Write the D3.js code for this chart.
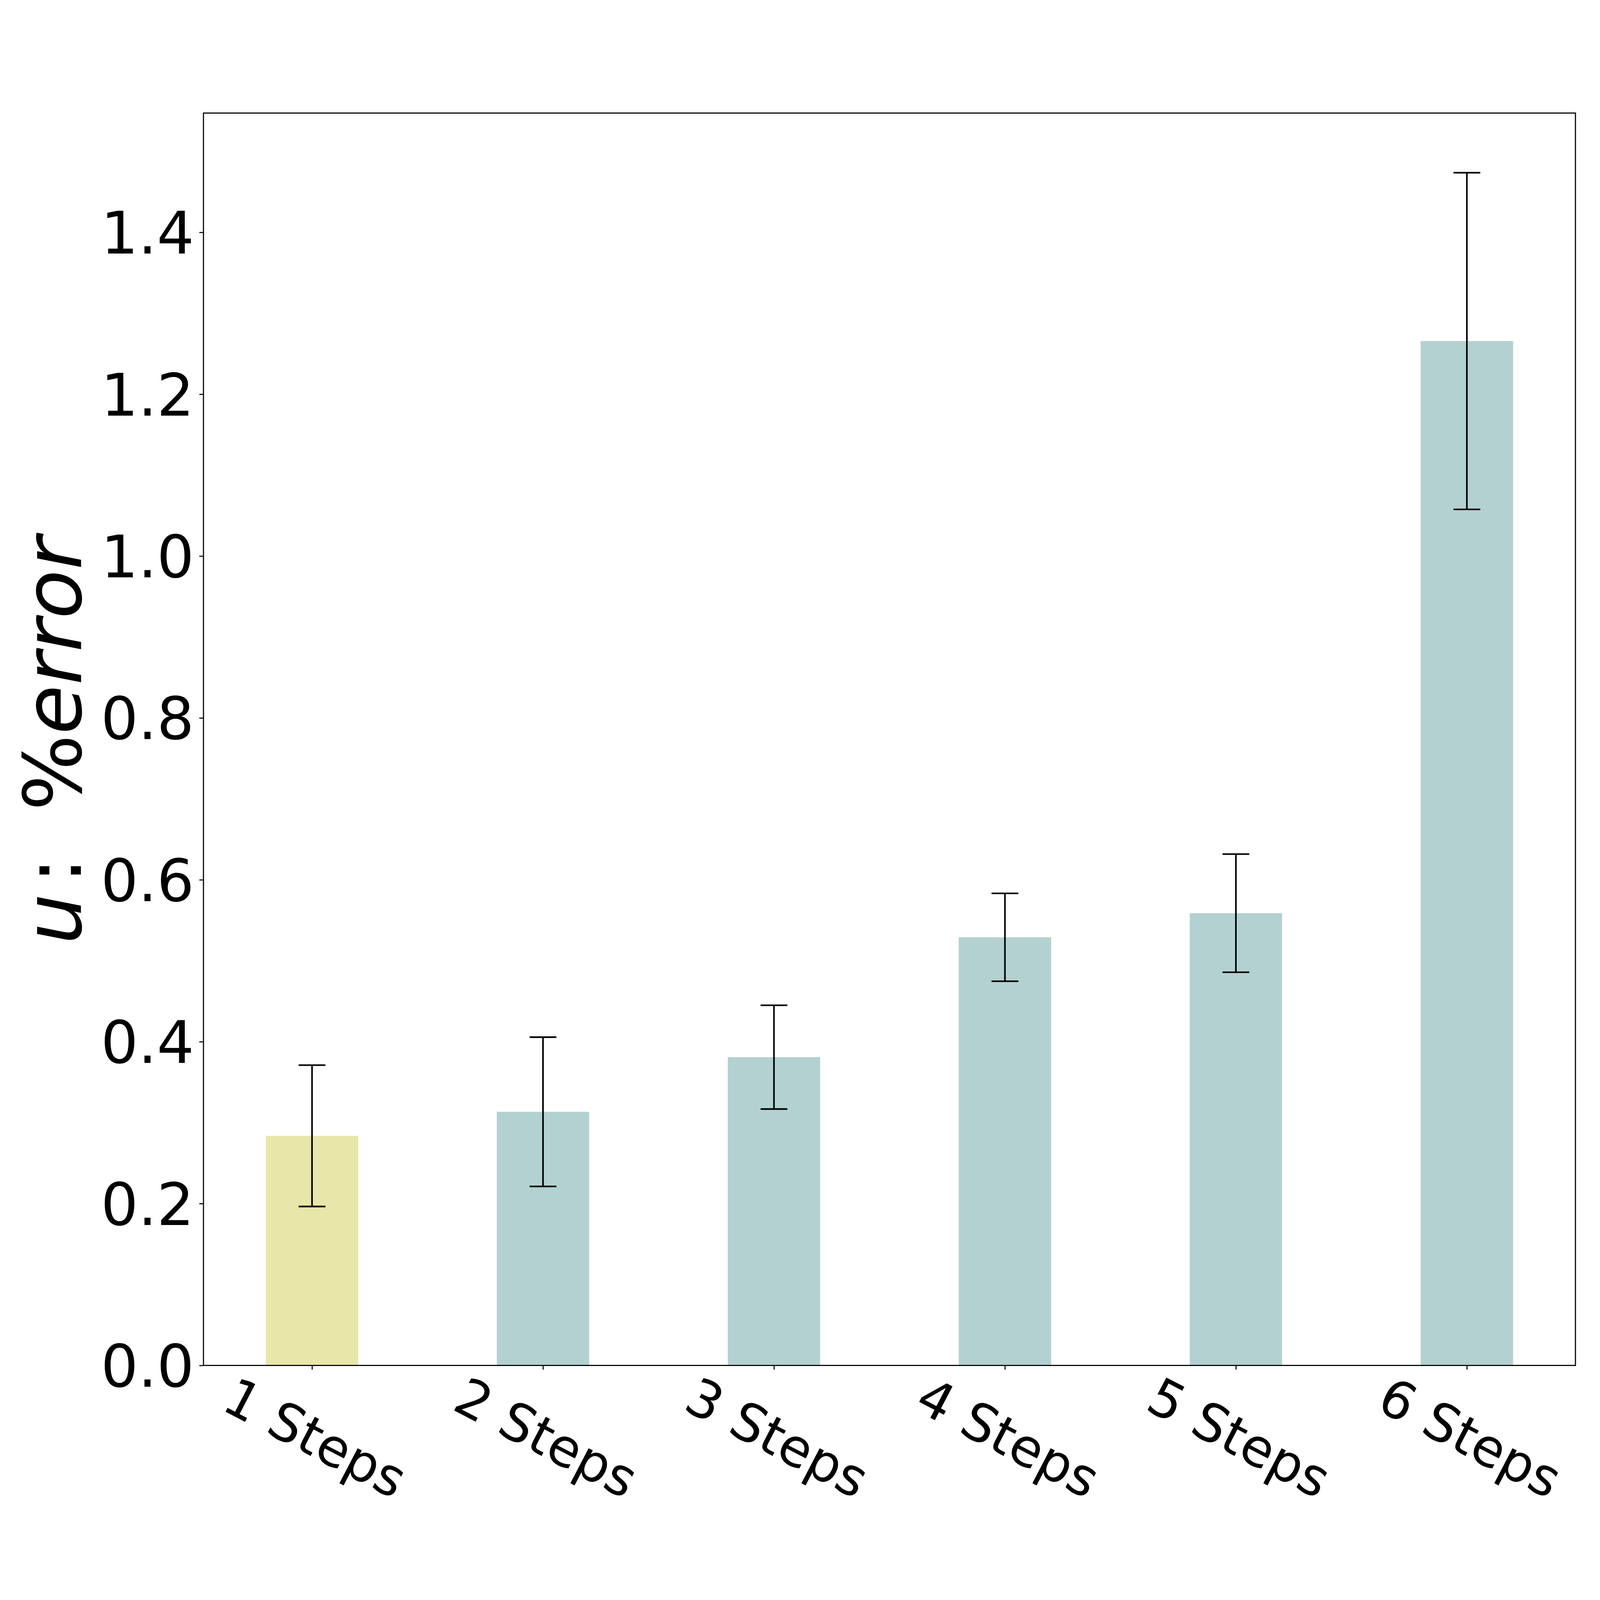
<!DOCTYPE html>
<html lang="en">

<head>
    <meta charset="UTF-8">
    <title>u : %error</title>
    <style>
        html,
        body {
            margin: 0;
            width: 100%;
            height: 100%;
            overflow: hidden;
            background: white;
        }

        svg {
            display: block;
            width: 100vw;
            height: 100vh;
            font-family: 'DejaVu Sans', sans-serif;
        }
    </style>
</head>

<body>
    <svg></svg>
    <script src="https://cdn.jsdelivr.net/npm/d3@7.8.5/dist/d3.min.js"></script>
    <script>
        const categories = ['1 Steps', '2 Steps', '3 Steps', '4 Steps', '5 Steps', '6 Steps']
        const means = [0.2837, 0.3134, 0.3809, 0.529, 0.5588, 1.2657]
        const errors = [0.0873, 0.0922, 0.0641, 0.0543, 0.073, 0.208]
        const barColors = ['#e9e6a9', '#b2d1d0', '#b2d1d0', '#b2d1d0', '#b2d1d0', '#b2d1d0']
        const yTicks = [0, 0.2, 0.4, 0.6, 0.8, 1.0, 1.2, 1.4]

        const width = 5017
        const height = 4446
        const box = { left: 638, right: 4940, top: 69, bottom: 3996 }
        const barWidth = 0.4

        // drawn in a fixed 5017x4446 space, scaled to whatever the window is
        const svg = d3.select('svg')
            .attr('viewBox', `0 0 ${width} ${height}`)
            .attr('preserveAspectRatio', 'xMidYMid meet')

        svg.append('rect')
            .attr('width', width)
            .attr('height', height)
            .attr('fill', 'white')

        const data = categories.map((c, i) => ({ name: c, i, mean: means[i], err: errors[i], color: barColors[i] }))

        // matplotlib-style limits: 5% margin around the data
        const x = d3.scaleLinear()
            .domain([-0.47, 5.47])
            .range([box.left, box.right])

        const yMax = d3.max(data, d => d.mean + d.err) * 1.05
        const y = d3.scaleLinear()
            .domain([0, yMax])
            .range([box.bottom, box.top])

        const plot = svg.append('g')

        plot.selectAll('rect.bar')
            .data(data)
            .join('rect')
            .attr('class', 'bar')
            .attr('x', d => x(d.i - barWidth / 2))
            .attr('width', d => x(barWidth) - x(0))
            .attr('y', d => y(d.mean))
            .attr('height', d => y(0) - y(d.mean))
            .attr('fill', d => d.color)

        // error bars
        const capHalf = 42
        const eb = plot.selectAll('g.err')
            .data(data)
            .join('g')
            .attr('class', 'err')
            .attr('stroke', 'black')
            .attr('stroke-width', 5)

        eb.append('line')
            .attr('x1', d => x(d.i))
            .attr('x2', d => x(d.i))
            .attr('y1', d => y(d.mean - d.err))
            .attr('y2', d => y(d.mean + d.err))

        eb.append('line')
            .attr('x1', d => x(d.i) - capHalf)
            .attr('x2', d => x(d.i) + capHalf)
            .attr('y1', d => y(d.mean + d.err))
            .attr('y2', d => y(d.mean + d.err))

        eb.append('line')
            .attr('x1', d => x(d.i) - capHalf)
            .attr('x2', d => x(d.i) + capHalf)
            .attr('y1', d => y(d.mean - d.err))
            .attr('y2', d => y(d.mean - d.err))

        // y axis
        const yAxis = svg.append('g')
            .attr('transform', `translate(${box.left},0)`)
            .call(d3.axisLeft(y).tickValues(yTicks).tickFormat(d3.format('.1f')).tickSize(13).tickPadding(16))

        yAxis.select('.domain').remove()
        yAxis.selectAll('.tick line').attr('stroke-width', 3.3)
        yAxis.selectAll('.tick text')
            .attr('font-size', 184)
            .attr('font-family', 'DejaVu Sans')
            .attr('fill', 'black')
            .attr('dy', '0.36em')

        // x axis with rotated labels
        const xAxis = svg.append('g')
            .attr('transform', `translate(0,${box.bottom})`)
            .call(d3.axisBottom(x).tickValues(data.map(d => d.i)).tickFormat(i => categories[i]).tickSize(13))

        xAxis.select('.domain').remove()
        xAxis.selectAll('.tick line').attr('stroke-width', 3.3)
        xAxis.selectAll('.tick text')
            .attr('font-size', 164)
            .attr('font-family', 'DejaVu Sans')
            .attr('fill', 'black')
            .attr('text-anchor', 'middle')
            .attr('y', 0)
            .attr('dy', '0.3em')
            .attr('transform', 'translate(6,234) rotate(27.5)')

        // frame
        svg.append('rect')
            .attr('x', box.left)
            .attr('y', box.top)
            .attr('width', box.right - box.left)
            .attr('height', box.bottom - box.top)
            .attr('fill', 'none')
            .attr('stroke', 'black')
            .attr('stroke-width', 3.5)

        // y label  u : %error
        const label = svg.append('text')
            .attr('transform', 'translate(253,2664) rotate(-90)')
            .attr('font-size', 252)
            .attr('font-family', 'DejaVu Sans')
            .attr('fill', 'black')

        label.append('tspan').attr('x', -12).attr('font-style', 'italic').text('u')
        label.append('tspan').attr('x', 178).text(':')
        label.append('tspan').attr('x', 407).text('%')
        label.append('tspan').attr('font-style', 'italic').text('error')
    </script>
</body>

</html>
